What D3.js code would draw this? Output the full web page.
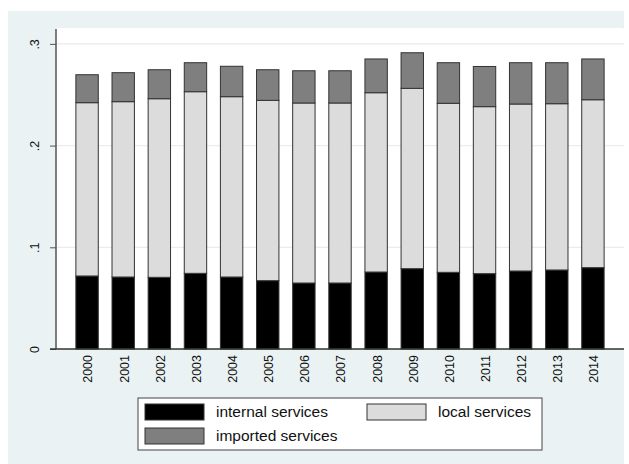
<!DOCTYPE html>
<html>
<head>
<meta charset="utf-8">
<script src="https://cdn.jsdelivr.net/npm/d3@7"></script>
<style>
  body { margin: 0; background: #fff; }
  text { font-family: "Liberation Sans", Arial, sans-serif; }
</style>
</head>
<body>
<svg id="chart" width="629" height="464"></svg>
<script>
var years = ["2000","2001","2002","2003","2004","2005","2006","2007","2008","2009","2010","2011","2012","2013","2014"];
// shares
var internal = [0.0718,0.0708,0.0705,0.0744,0.0708,0.0672,0.0649,0.0649,0.0757,0.0790,0.0754,0.0741,0.0767,0.0777,0.0800];
var local    = [0.1704,0.1724,0.1756,0.1786,0.1773,0.1773,0.1770,0.1770,0.1763,0.1773,0.1662,0.1642,0.1642,0.1635,0.1651];
var imported = [0.0275,0.0285,0.0285,0.0285,0.0299,0.0301,0.0317,0.0317,0.0332,0.0350,0.0399,0.0395,0.0406,0.0403,0.0401];
var yTicks = [0, 0.1, 0.2, 0.3];
var yTickLabels = ["0", ".1", ".2", ".3"];
var keys = ["internal services", "local services", "imported services"];

var colors = {
  "internal services": "#000000",
  "local services": "#dcdcdc",
  "imported services": "#7f7f7f"
};

var data = years.map(function (yr, i) {
  return {
    year: yr,
    "internal services": internal[i],
    "local services": local[i],
    "imported services": imported[i]
  };
});

var svg = d3.select("#chart");

// outer graph region
svg.append("rect")
  .attr("x", 8).attr("y", 11)
  .attr("width", 616).attr("height", 453)
  .style("fill", "#eaf2f3");

var plot = { left: 56, right: 624, top: 28, bottom: 349 };

svg.append("rect")
  .attr("x", plot.left).attr("y", plot.top)
  .attr("width", plot.right - plot.left).attr("height", plot.bottom - plot.top)
  .attr("rx", 2)
  .style("fill", "#ffffff");

var x = d3.scaleBand()
  .domain(years)
  .range([plot.left, plot.right])
  .paddingInner(0.38)
  .paddingOuter(0.55);

var y = d3.scaleLinear()
  .domain([0, 0.3])
  .range([plot.bottom, plot.bottom - 305.1]);

// gridlines
svg.append("g")
  .selectAll("line")
  .data(yTicks.slice(1))
  .enter().append("line")
  .attr("x1", plot.left).attr("x2", plot.right)
  .attr("y1", (d) => y(d)).attr("y2", (d) => y(d))
  .style("stroke", "#e6eef0")
  .style("stroke-width", 1.2);

var stack = d3.stack().keys(keys);
var series = stack(data);

svg.append("g")
  .selectAll("g")
  .data(series)
  .enter().append("g")
  .style("fill", (d) => colors[d.key])
  .selectAll("rect")
  .data((d) => d)
  .enter().append("rect")
  .attr("x", (d) => x(d.data.year))
  .attr("y", (d) => y(d[1]))
  .attr("width", x.bandwidth())
  .attr("height", (d) => y(d[0]) - y(d[1]))
  .style("stroke", "#333")
  .style("stroke-width", 1);

// y axis
var yAxis = svg.append("g")
  .attr("transform", "translate(" + plot.left + ",0)")
  .call(d3.axisLeft(y).tickValues(yTicks).tickSize(6).tickFormat((d, i) => yTickLabels[i]));
yAxis.select(".domain").attr("d", "M0," + (plot.top + 1) + "V" + plot.bottom).style("stroke", "#555").style("stroke-width", 1.5);
yAxis.selectAll(".tick line").style("stroke", "#555");
yAxis.selectAll(".tick text")
  .attr("x", 0).attr("y", 0).attr("dy", 0)
  .attr("text-anchor", "middle")
  .attr("transform", "translate(-17.5,0) rotate(-90)")
  .style("font-size", "12.5px")
  .style("fill", "#111");

// x axis
svg.append("line")
  .attr("x1", plot.left - 6).attr("x2", plot.right)
  .attr("y1", plot.bottom).attr("y2", plot.bottom)
  .style("stroke", "#333").style("stroke-width", 1.5);

var xAxis = svg.append("g")
  .attr("transform", "translate(0," + plot.bottom + ")")
  .call(d3.axisBottom(x).tickSize(0));
xAxis.select(".domain").remove();
xAxis.selectAll(".tick text")
  .attr("x", 0).attr("y", 0).attr("dy", "0.35em")
  .attr("text-anchor", "end")
  .attr("transform", "translate(1,6) rotate(-90)")
  .style("font-size", "12.5px")
  .style("fill", "#111");

// legend
var legend = svg.append("g");
legend.append("rect")
  .attr("x", 138).attr("y", 398)
  .attr("width", 404).attr("height", 52)
  .style("fill", "#fff")
  .style("stroke", "#444")
  .style("stroke-width", 1);

var legendPos = [
  { key: "internal services", x: 145, y: 404 },
  { key: "local services", x: 367, y: 404 },
  { key: "imported services", x: 145, y: 428 }
];

var item = legend.selectAll("g.item")
  .data(legendPos)
  .enter().append("g")
  .attr("class", "item")
  .attr("transform", (d) => "translate(" + d.x + "," + d.y + ")");

item.append("rect")
  .attr("width", 59).attr("height", 16)
  .style("fill", (d) => colors[d.key])
  .style("stroke", "#333");

item.append("text")
  .attr("x", 71).attr("y", 8).attr("dy", "0.35em")
  .style("font-size", "15.5px")
  .style("fill", "#111")
  .text((d) => d.key);
</script>
</body>
</html>
